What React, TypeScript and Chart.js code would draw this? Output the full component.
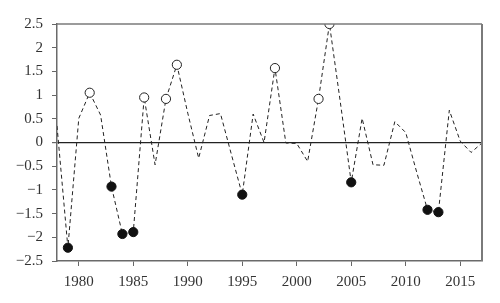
import React, { useEffect, useRef } from "react";
import { Chart, registerables } from "chart.js";

Chart.register(...registerables);

const years: number[] = [
  1978, 1979, 1980, 1981, 1982, 1983, 1984, 1985, 1986, 1987,
  1988, 1989, 1990, 1991, 1992, 1993, 1994, 1995, 1996, 1997,
  1998, 1999, 2000, 2001, 2002, 2003, 2004, 2005, 2006, 2007,
  2008, 2009, 2010, 2011, 2012, 2013, 2014, 2015, 2016, 2017,
];
const values: number[] = [
  0.35, -2.22, 0.51, 1.05, 0.58, -0.93, -1.93, -1.89, 0.95, -0.47,
  0.92, 1.64, 0.62, -0.33, 0.57, 0.61, -0.25, -1.1, 0.6, 0.0,
  1.57, -0.01, -0.02, -0.4, 0.92, 2.5, 0.85, -0.84, 0.51, -0.47,
  -0.48, 0.44, 0.21, -0.62, -1.42, -1.47, 0.68, 0.03, -0.21, -0.01,
];
const openYears: number[] = [1981, 1986, 1988, 1989, 1998, 2002, 2003];
const filledYears: number[] = [1979, 1983, 1984, 1985, 1995, 2005, 2012, 2013];
const xTicks: number[] = [1980, 1985, 1990, 1995, 2000, 2005, 2010, 2015];
const yMin = -2.5;
const yMax = 2.5;
const yStep = 0.5;
const xMin = 1978;
const xMax = 2017;

const pointsFor = (ys: number[]) =>
  ys.map((yr) => ({ x: yr, y: values[years.indexOf(yr)] }));

const framePlugin = {
  id: "frame",
  afterDatasetsDraw(chart: any) {
    const { ctx, chartArea } = chart;
    ctx.save();
    ctx.strokeStyle = "#7a7a7a";
    ctx.lineWidth = 1.5;
    ctx.beginPath();
    ctx.moveTo(chartArea.left, chartArea.top);
    ctx.lineTo(chartArea.right, chartArea.top);
    ctx.stroke();
    ctx.lineWidth = 2;
    ctx.beginPath();
    ctx.moveTo(chartArea.right, chartArea.top);
    ctx.lineTo(chartArea.right, chartArea.bottom);
    ctx.stroke();
    ctx.restore();
  },
};

export default function App() {
  const ref = useRef<HTMLCanvasElement | null>(null);
  useEffect(() => {
    if (!ref.current) return;
    const font = { family: "'Liberation Serif', 'DejaVu Serif', serif", size: 15 };
    const chart = new Chart(ref.current, {
      type: "line",
      data: {
        datasets: [
          {
            label: "series",
            data: years.map((x, i) => ({ x, y: values[i] })),
            borderColor: "#222",
            borderWidth: 1,
            borderDash: [4, 3],
            pointRadius: 0,
            fill: false,
            tension: 0,
            clip: 0,
            order: 2,
          },
          {
            label: "high",
            data: pointsFor(openYears),
            showLine: false,
            pointRadius: 4.6,
            pointBackgroundColor: "#fff",
            pointBorderColor: "#222",
            pointBorderWidth: 1,
            clip: 0,
            order: 1,
          },
          {
            label: "low",
            data: pointsFor(filledYears),
            showLine: false,
            pointRadius: 4.6,
            pointBackgroundColor: "#111",
            pointBorderColor: "#111",
            pointBorderWidth: 1,
            clip: 0,
            order: 1,
          },
        ],
      },
      options: {
        animation: false,
        responsive: false,
        maintainAspectRatio: false,
        layout: { padding: { left: 0, top: 24, right: 18, bottom: 0 } },
        plugins: { legend: { display: false }, tooltip: { enabled: false } },
        scales: {
          x: {
            type: "linear",
            min: xMin,
            max: xMax,
            afterBuildTicks: (scale: any) => {
              scale.ticks = xTicks.map((v) => ({ value: v }));
            },
            afterFit: (scale: any) => {
              scale.height = 42;
            },
            grid: {
              display: true,
              drawOnChartArea: false,
              drawTicks: true,
              tickLength: 5,
              color: "#666",
              tickColor: "#666",
            },
            border: { display: true, color: "#6a6a6a", width: 1.5 },
            ticks: {
              font,
              color: "#333",
              padding: 7,
              maxRotation: 0,
              callback: (v: any) => String(v),
            },
          },
          y: {
            type: "linear",
            min: yMin,
            max: yMax,
            afterFit: (scale: any) => {
              scale.width = 57;
            },
            grid: {
              display: true,
              drawOnChartArea: true,
              drawTicks: true,
              tickLength: 5,
              color: (c: any) => (c.tick && c.tick.value === 0 ? "#222" : "rgba(0,0,0,0)"),
              lineWidth: (c: any) => (c.tick && c.tick.value === 0 ? 1.2 : 1),
              tickColor: "#666",
            },
            border: { display: true, color: "#6a6a6a", width: 1.5 },
            ticks: {
              font,
              color: "#333",
              padding: 9,
              stepSize: yStep,
              callback: (v: any) => String(Number(v)).replace("-", "\u2212"),
            },
          },
        },
      },
      plugins: [framePlugin],
    });
    return () => chart.destroy();
  }, []);
  return (
    <div style={{ position: "fixed", left: 0, top: 0, width: 500, height: 303, background: "#fff" }}>
      <canvas ref={ref} width={500} height={303} style={{ width: 500, height: 303 }} />
    </div>
  );
}
